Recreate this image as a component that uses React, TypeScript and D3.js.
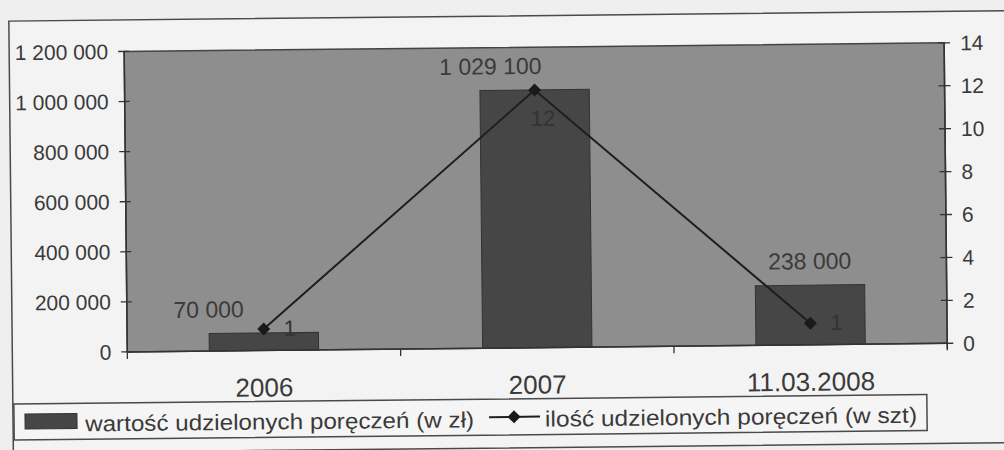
import React from "react";
import * as d3 from "d3";

const categories = ["2006", "2007", "11.03.2008"];
const amountValues = [70000, 1029100, 238000];
const countValues = [1, 12, 1];
const leftTicks = [0, 200000, 400000, 600000, 800000, 1000000, 1200000];
const rightTicks = [0, 2, 4, 6, 8, 10, 12, 14];
const seriesNames = ["wartość udzielonych poręczeń (w zł)", "ilość udzielonych poręczeń (w szt)"];

const W = 1004;
const H = 450;
const plot = { left: 126, right: 946, top: 47.5, bottom: 348 };

const loc = d3.formatLocale({ decimal: ",", thousands: " ", grouping: [3], currency: ["", ""] });
const fmt = loc.format(",");

const FONT = "'Liberation Sans', Arial, sans-serif";
const TEXT = "#3a3a3a";

// label placement nudges (layout, not data)
const barLabelDx = [-55, -44, 0];
const countLabelOffset: [number, number, string][] = [
  [20, 7, "start"],
  [8, 36, "middle"],
  [20, 7, "start"],
];

export default function App() {
  const x = d3
    .scaleBand<string>()
    .domain(categories)
    .range([plot.left, plot.right])
    .paddingInner(0.6)
    .paddingOuter(0.3);
  const yL = d3.scaleLinear().domain([0, 1200000]).range([plot.bottom, plot.top]);
  const yR = d3.scaleLinear().domain([0, 14]).range([plot.bottom, plot.top]);
  const cx = (c: string) => (x(c) as number) + x.bandwidth() / 2;
  const line = d3
    .line<number>()
    .x((_, i) => cx(categories[i]))
    .y((d) => yR(d));
  const step = x.step();
  const xTickPositions = d3.range(categories.length + 1).map((i) => plot.left + i * ((plot.right - plot.left) / categories.length));

  const diamond = (px: number, py: number, r: number) =>
    `M${px},${py - r}L${px + r},${py}L${px},${py + r}L${px - r},${py}Z`;

  return (
    <svg width={W} height={H} style={{ position: "absolute", left: 0, top: 0, background: "#efefef" }} fontFamily={FONT}>
      <rect x={0} y={0} width={W} height={H} fill="#efefef" />
      <g transform="rotate(-0.6 500 225)">
        {/* outer chart border */}
        <rect x={11} y={16} width={1010} height={432} fill="#f3f3f3" stroke="#4a4a4a" strokeWidth={1.5} />
        {/* plot area */}
        <rect
          x={plot.left}
          y={plot.top}
          width={plot.right - plot.left}
          height={plot.bottom - plot.top}
          fill="#8e8e8e"
          stroke="#444"
          strokeWidth={1.5}
        />
        {/* bars */}
        {categories.map((c, i) => (
          <rect
            key={c}
            x={x(c)}
            y={yL(amountValues[i])}
            width={x.bandwidth()}
            height={plot.bottom - yL(amountValues[i])}
            fill="#464646"
            stroke="#333"
            strokeWidth={1}
          />
        ))}
        {/* axes */}
        <line x1={plot.left} x2={plot.left} y1={plot.top} y2={plot.bottom} stroke="#333" strokeWidth={1.5} />
        <line x1={plot.right} x2={plot.right} y1={plot.top} y2={plot.bottom + 6} stroke="#333" strokeWidth={1.5} />
        <line x1={plot.left} x2={plot.right} y1={plot.bottom} y2={plot.bottom} stroke="#333" strokeWidth={1.5} />
        {leftTicks.map((t) => (
          <g key={"l" + t}>
            <line x1={plot.left - 6} x2={plot.left + 5} y1={yL(t)} y2={yL(t)} stroke="#333" strokeWidth={1.3} />
            <text x={110} y={yL(t) + 7.5} textAnchor="end" fontSize={21} fill={TEXT}>
              {fmt(t)}
            </text>
          </g>
        ))}
        {rightTicks.map((t) => (
          <g key={"r" + t}>
            <line x1={plot.right - 6} x2={plot.right + 6} y1={yR(t)} y2={yR(t)} stroke="#333" strokeWidth={1.3} />
            <text x={962} y={yR(t) + 7.5} textAnchor="start" fontSize={21} fill={TEXT}>
              {t}
            </text>
          </g>
        ))}
        {xTickPositions.map((p, i) => (
          <line key={"xt" + i} x1={p} x2={p} y1={plot.bottom} y2={plot.bottom + 7} stroke="#333" strokeWidth={1.3} />
        ))}
        {categories.map((c) => (
          <text key={"xl" + c} x={cx(c)} y={394} textAnchor="middle" fontSize={26} fill={TEXT}>
            {c}
          </text>
        ))}
        {/* bar value labels */}
        {categories.map((c, i) => (
          <text
            key={"bl" + c}
            x={cx(c) + barLabelDx[i]}
            y={yL(amountValues[i]) - 16}
            textAnchor="middle"
            fontSize={23}
            fill={TEXT}
          >
            {fmt(amountValues[i])}
          </text>
        ))}
        {/* line series */}
        <path d={line(countValues) || ""} fill="none" stroke="#1e1e1e" strokeWidth={2} />
        {countValues.map((v, i) => (
          <path key={"m" + i} d={diamond(cx(categories[i]), yR(v), 6.5)} fill="#1a1a1a" />
        ))}
        {countValues.map((v, i) => (
          <text
            key={"cl" + i}
            x={cx(categories[i]) + countLabelOffset[i][0]}
            y={yR(v) + countLabelOffset[i][1]}
            textAnchor={countLabelOffset[i][2] as any}
            fontSize={22}
            fill="#333"
          >
            {v}
          </text>
        ))}
        {/* legend */}
        <rect x={12} y={399} width={913} height={36} fill="#f5f5f5" stroke="#4a4a4a" strokeWidth={1.5} />
        <rect x={23} y={409} width={52} height={15} fill="#464646" stroke="#333" strokeWidth={1} />
        <text x={83} y={427} fontSize={22} fill={TEXT} textLength={389} lengthAdjust="spacingAndGlyphs">
          {seriesNames[0]}
        </text>
        <line x1={487} x2={538} y1={417} y2={417} stroke="#1e1e1e" strokeWidth={2} />
        <path d={diamond(512, 417, 6.5)} fill="#1a1a1a" />
        <text x={543} y={427} fontSize={22} fill={TEXT} textLength={372} lengthAdjust="spacingAndGlyphs">
          {seriesNames[1]}
        </text>
      </g>
    </svg>
  );
}
